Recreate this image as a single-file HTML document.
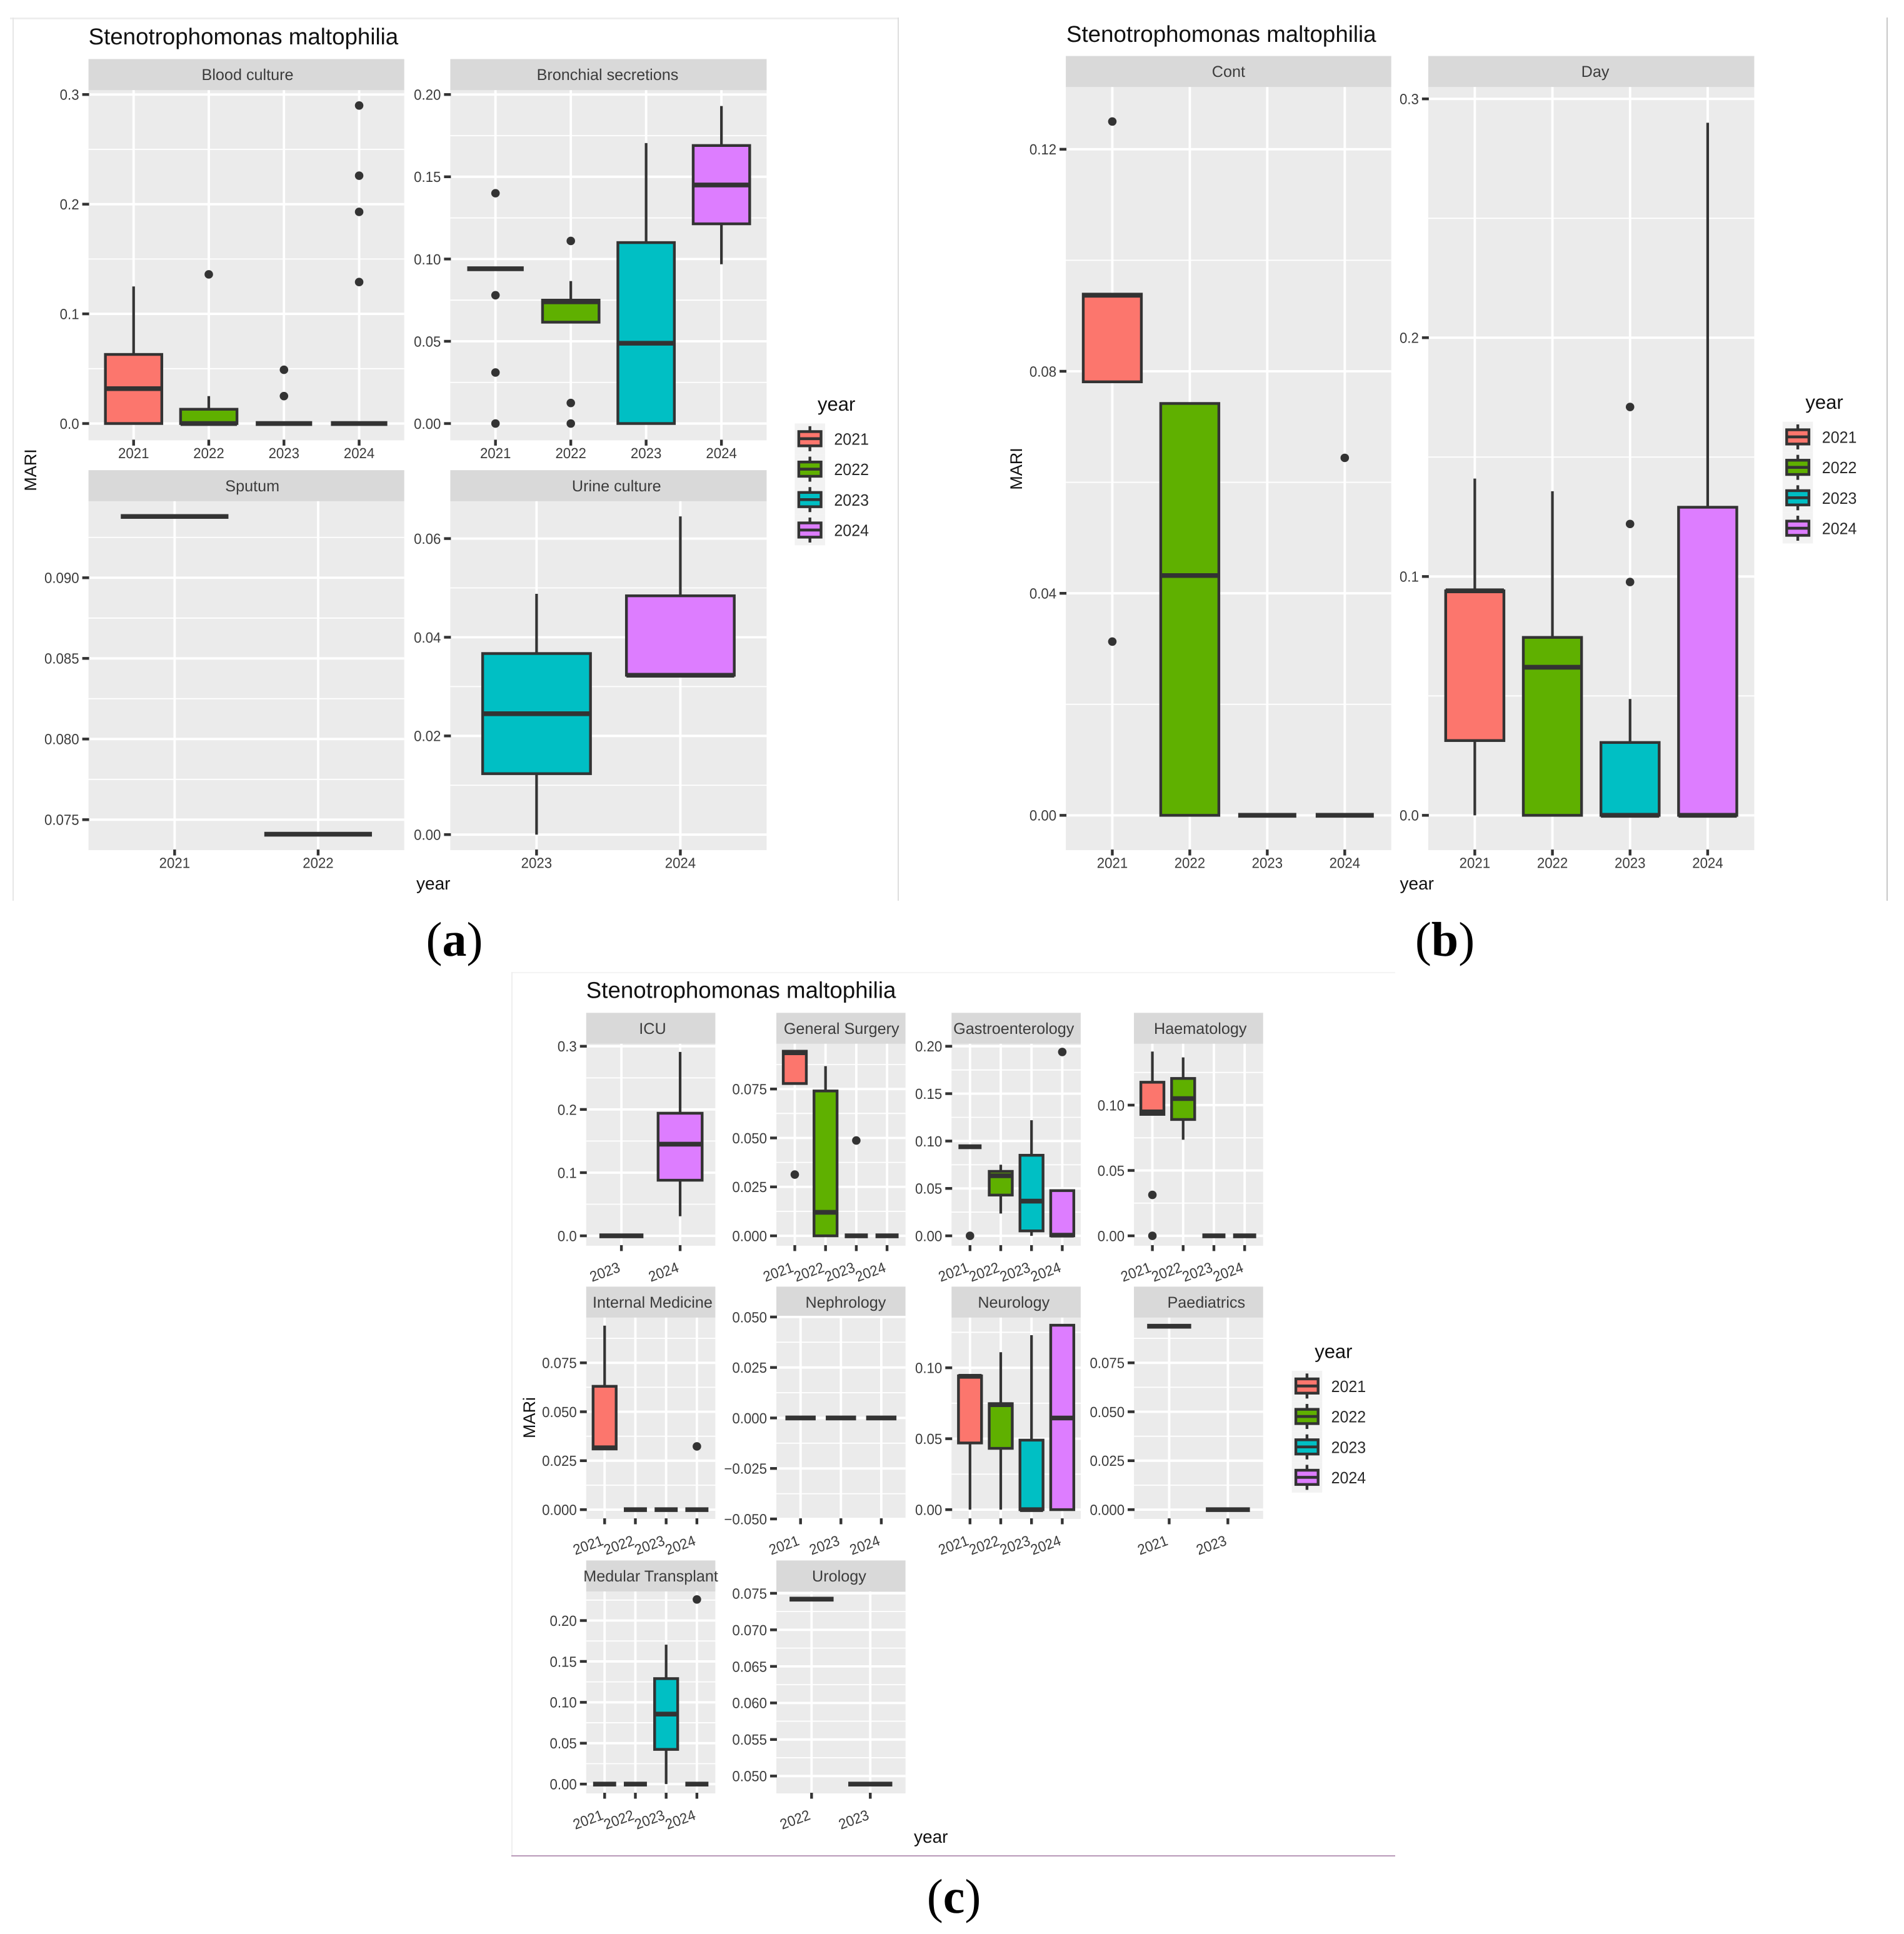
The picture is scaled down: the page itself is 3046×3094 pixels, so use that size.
<!DOCTYPE html>
<html lang="en">
<head>
<meta charset="utf-8">
<title>Stenotrophomonas maltophilia MARI boxplots</title>
<style>
html,body{margin:0;padding:0;background:#fff;}
svg{display:block;font-family:"Liberation Sans",Arial,sans-serif;text-rendering:geometricPrecision;}
</style>
</head>
<body>
<svg id="chart" xmlns="http://www.w3.org/2000/svg" width="3046" height="3094" viewBox="0 0 3046 3094">
  <rect x="0" y="0" width="3046" height="3094" fill="#ffffff"/>

  <rect x="16" y="28" width="1422" height="3" fill="#eeeeee"/>
  <rect x="20" y="28" width="2" height="1413" fill="#e6e6e6"/>
  <rect x="1436" y="28" width="2" height="1413" fill="#dedede"/>
  <rect x="3018" y="28" width="2" height="1413" fill="#c8c8c8"/>
  <rect x="818" y="1555" width="1414" height="2" fill="#f4f4f4"/>
  <rect x="818" y="1555" width="2" height="1414" fill="#eeeeee"/>
  <rect x="818" y="2968" width="1414" height="2" fill="#b899b8"/>

  <text x="141.6" y="71" font-size="36.7" fill="#111">Stenotrophomonas maltophilia</text>
  <text x="1706" y="67" font-size="36.7" fill="#111">Stenotrophomonas maltophilia</text>
  <text x="937.8" y="1596.5" font-size="36.7" fill="#111">Stenotrophomonas maltophilia</text>

  <text transform="translate(58 752) rotate(-90)" text-anchor="middle" font-size="27" fill="#111">MARI</text>
  <text transform="translate(1635 750) rotate(-90)" text-anchor="middle" font-size="27" fill="#111">MARI</text>
  <text transform="translate(856 2268) rotate(-90)" text-anchor="middle" font-size="27" fill="#111">MARi</text>

  <text x="666" y="1423" font-size="28" fill="#111">year</text>
  <text x="2239.5" y="1423" font-size="28" fill="#111">year</text>
  <text x="1462" y="2948" font-size="28" fill="#111">year</text>

  <text x="727" y="1529" text-anchor="middle" font-size="78" fill="#000" style="font-family:'Liberation Serif',serif">(<tspan font-weight="bold">a</tspan>)</text>
  <text x="2311.5" y="1529" text-anchor="middle" font-size="78" fill="#000" style="font-family:'Liberation Serif',serif">(<tspan font-weight="bold">b</tspan>)</text>
  <text x="1526" y="3060" text-anchor="middle" font-size="78" fill="#000" style="font-family:'Liberation Serif',serif">(<tspan font-weight="bold">c</tspan>)</text>

  <g id="plots"></g>
</svg>
<script>
// ---------- Data: each box row is [whisker low, Q1, median, Q3, whisker high] ----------
const legendYears = ['2021','2022','2023','2024'];

const bloodCultureYears = ['2021','2022','2023','2024'];
const bloodCultureTicks = [0,0.1,0.2,0.3];
const bloodCultureBoxes = [[0,0,0.0318,0.063,0.125],[0,0,0,0.013,0.025],[0,0,0,0,0],[0,0,0,0,0]];
const bloodCultureOutliers = [[],[0.136],[0.025,0.049],[0.129,0.193,0.226,0.29]];

const bronchialYears = ['2021','2022','2023','2024'];
const bronchialTicks = [0,0.05,0.10,0.15,0.20];
const bronchialBoxes = [[0.0941,0.0941,0.0941,0.0941,0.0941],[0.0616,0.0616,0.074,0.075,0.0866],[0,0,0.0488,0.11,0.1705],[0.0968,0.1214,0.145,0.169,0.193]];
const bronchialOutliers = [[0,0.031,0.078,0.14],[0,0.0125,0.111],[],[]];

const sputumYears = ['2021','2022'];
const sputumTicks = [0.075,0.080,0.085,0.090];
const sputumBoxes = [[0.0938,0.0938,0.0938,0.0938,0.0938],[0.0741,0.0741,0.0741,0.0741,0.0741]];
const sputumOutliers = [[],[]];

const urineYears = ['2023','2024'];
const urineTicks = [0,0.02,0.04,0.06];
const urineBoxes = [[0,0.01235,0.0245,0.0367,0.0488],[0.0323,0.0323,0.0323,0.0484,0.0645]];
const urineOutliers = [[],[]];

const contYears = ['2021','2022','2023','2024'];
const contTicks = [0,0.04,0.08,0.12];
const contBoxes = [[0.0781,0.0781,0.0937,0.0939,0.0939],[0,0,0.0432,0.0742,0.0742],[0,0,0,0,0],[0,0,0,0,0]];
const contOutliers = [[0.0313,0.125],[],[],[0.0644]];

const dayYears = ['2021','2022','2023','2024'];
const dayTicks = [0,0.1,0.2,0.3];
const dayBoxes = [[0,0.0313,0.094,0.094,0.141],[0,0,0.062,0.0745,0.1357],[0,0,0,0.0305,0.0487],[0,0,0,0.129,0.29]];
const dayOutliers = [[],[],[0.0977,0.122,0.171],[]];

const icuYears = ['2023','2024'];
const icuTicks = [0,0.1,0.2,0.3];
const icuBoxes = [[0,0,0,0,0],[0.031,0.088,0.145,0.194,0.291]];
const icuOutliers = [[],[]];

const surgeryYears = ['2021','2022','2023','2024'];
const surgeryTicks = [0,0.025,0.05,0.075];
const surgeryBoxes = [[0.0778,0.0778,0.0935,0.0943,0.0943],[0,0,0.012,0.074,0.0867],[0,0,0,0,0],[0,0,0,0,0]];
const surgeryOutliers = [[0.0313],[],[0.0487],[]];

const gastroYears = ['2021','2022','2023','2024'];
const gastroTicks = [0,0.05,0.10,0.15,0.20];
const gastroBoxes = [[0.094,0.094,0.094,0.094,0.094],[0.0235,0.043,0.0634,0.068,0.075],[0,0.0052,0.0366,0.085,0.122],[0,0,0.0007,0.0477,0.0477]];
const gastroOutliers = [[0],[],[],[0.194]];

const haemYears = ['2021','2022','2023','2024'];
const haemTicks = [0,0.05,0.10];
const haemBoxes = [[0.0929,0.0929,0.0948,0.1175,0.141],[0.0735,0.089,0.105,0.1204,0.1365],[0,0,0,0,0],[0,0,0,0,0]];
const haemOutliers = [[0,0.0313],[],[],[]];

const internalYears = ['2021','2022','2023','2024'];
const internalTicks = [0,0.025,0.05,0.075];
const internalBoxes = [[0.031,0.031,0.0316,0.063,0.094],[0,0,0,0,0],[0,0,0,0,0],[0,0,0,0,0]];
const internalOutliers = [[],[],[],[0.0323]];

const nephroYears = ['2021','2023','2024'];
const nephroTicks = [-0.05,-0.025,0,0.025,0.05];
const nephroBoxes = [[0,0,0,0,0],[0,0,0,0,0],[0,0,0,0,0]];
const nephroOutliers = [[],[],[]];

const neuroYears = ['2021','2022','2023','2024'];
const neuroTicks = [0,0.05,0.10];
const neuroBoxes = [[0,0.047,0.094,0.0943,0.0943],[0,0.0432,0.074,0.0747,0.111],[0,0,0,0.049,0.123],[0,0,0.0646,0.13,0.13]];
const neuroOutliers = [[],[],[],[]];

const paedYears = ['2021','2023'];
const paedTicks = [0,0.025,0.05,0.075];
const paedBoxes = [[0.0937,0.0937,0.0937,0.0937,0.0937],[0,0,0,0,0]];
const paedOutliers = [[],[]];

const medularYears = ['2021','2022','2023','2024'];
const medularTicks = [0,0.05,0.10,0.15,0.20];
const medularBoxes = [[0,0,0,0,0],[0,0,0,0,0],[0,0.0424,0.0856,0.129,0.1705],[0,0,0,0,0]];
const medularOutliers = [[],[],[],[0.2258]];

const urologyYears = ['2022','2023'];
const urologyTicks = [0.05,0.055,0.06,0.065,0.07,0.075];
const urologyBoxes = [[0.0742,0.0742,0.0742,0.0742,0.0742],[0.0489,0.0489,0.0489,0.0489,0.0489]];
const urologyOutliers = [[],[]];

// ---------- Drawing ----------
const SVG_NS = 'http://www.w3.org/2000/svg';
const fills = {'2021':'#FC766D','2022':'#5FB000','2023':'#00BFC4','2024':'#DD7DFF'};
const INK = '#333333';
const plotsRoot = document.getElementById('plots');

function mk(tag, attrs, parent){
  const e = document.createElementNS(SVG_NS, tag);
  for (const k in attrs) e.setAttribute(k, attrs[k]);
  parent.appendChild(e);
  return e;
}

// Scale factors mapping layout coordinates of each sub-figure to the page
const layoutA = {dx:0, dy:0, fx:1.0453, fy:1.0051};
const layoutB = {dx:1500, dy:0, fx:1.0142, fy:1.0051};
const layoutC = {dx:800, dy:1540, fx:1.0453, fy:1.009};

function drawPanel(p){
  const L = p.layout;
  const px = z => L.dx + z / L.fx;
  const py = z => L.dy + z / L.fy;
  const left = px(p.x0), right = px(p.x1);
  const stripTop = py(p.stripTop), top = py(p.stripBottom), bottom = py(p.bottom);
  const width = right - left;
  const slug = p.slug;

  const n = p.years.length;
  const step = width / (n - 1 + 1.2);
  const xScale = i => left + (i + 0.6) * step;
  const a0 = py(p.anchor[1]), a1 = py(p.anchor[3]);
  const yPerUnit = (a1 - a0) / (p.anchor[2] - p.anchor[0]);
  const yScale = v => a0 + (v - p.anchor[0]) * yPerUnit;

  const g = mk('g', {}, plotsRoot);
  
  

  const bg = mk('rect', {x:left, y:top, width:width, height:bottom - top, fill:'#EBEBEB'}, g);
  
  

  const strip = mk('rect', {x:left, y:stripTop, width:width, height:top - stripTop, fill:'#D9D9D9'}, g);
  
  

  const stripText = mk('text', {x:px(p.stripX), y:(stripTop + top) / 2 + 8.8, 'text-anchor':'middle', 'font-size':25.2, fill:'#3c3c3c'}, g);
  stripText.textContent = p.title;
  
  

  // minor horizontal gridlines
  const tickStep = p.ticks[1] - p.ticks[0];
  const lo = (bottom - a0) / yPerUnit + p.anchor[0];
  const hi = (top - a0) / yPerUnit + p.anchor[0];
  for (let k = -40; k < 40; k++){
    const v = p.ticks[0] + (k + 0.5) * tickStep;
    if (v < lo || v > hi) continue;
    const minor = mk('line', {x1:left, x2:right, y1:yScale(v), y2:yScale(v), stroke:'#fff', 'stroke-width':1.8}, g);
    
    
  }
  // major horizontal gridlines, ticks, labels
  p.ticks.forEach(v => {
    const y = yScale(v);
    const grid = mk('line', {x1:left, x2:right, y1:y, y2:y, stroke:'#fff', 'stroke-width':3.8}, g);
    
    

    const tick = mk('line', {x1:left - 10, x2:left + 1, y1:y, y2:y, stroke:INK, 'stroke-width':4.4}, g);
    
    

    const lab = mk('text', {transform:'translate(' + (left - 15) + ' ' + (y + 8.4) + ') scale(0.95 1)', 'text-anchor':'end', 'font-size':23.4, fill:'#3c3c3c'}, g);
    lab.textContent = v.toFixed(p.decimals).replace('-', '\u2212');
    
    
  });
  // vertical gridlines, ticks, labels
  p.years.forEach((yr, i) => {
    const x = xScale(i);
    const grid = mk('line', {x1:x, x2:x, y1:top, y2:bottom, stroke:'#fff', 'stroke-width':3.8}, g);
    
    

    const tick = mk('line', {x1:x, x2:x, y1:bottom - 1, y2:bottom + 8.5, stroke:INK, 'stroke-width':4.4}, g);
    
    

    const xform = p.rotate
      ? 'translate(' + (x - 0.5) + ' ' + (bottom + 41) + ') rotate(-20) scale(0.95 1)'
      : 'translate(' + x + ' ' + (bottom + 28.5) + ') scale(0.95 1)';
    const lab = mk('text', {transform:xform, 'text-anchor':p.rotate ? 'end' : 'middle', 'font-size':23.4, fill:'#3c3c3c'}, g);
    lab.textContent = yr;
    
    
  });
  // boxes
  p.boxes.forEach((b, i) => {
    const x = xScale(i), w = step * 0.75;
    const yr = p.years[i];
    const whiskLow = mk('line', {x1:x, x2:x, y1:yScale(b[0]), y2:yScale(b[1]), stroke:INK, 'stroke-width':4.2}, g);
    
    

    const whiskHigh = mk('line', {x1:x, x2:x, y1:yScale(b[3]), y2:yScale(b[4]), stroke:INK, 'stroke-width':4.2}, g);
    
    

    const box = mk('rect', {x:x - w / 2, y:yScale(b[3]), width:w, height:Math.max(0, yScale(b[1]) - yScale(b[3])), fill:fills[yr], stroke:INK, 'stroke-width':4.4}, g);
    
    

    const med = mk('line', {x1:x - w / 2, x2:x + w / 2, y1:yScale(b[2]), y2:yScale(b[2]), stroke:INK, 'stroke-width':7.6}, g);
    
    

    p.outliers[i].forEach(v => {
      const dot = mk('circle', {cx:x, cy:yScale(v), r:6.8, fill:INK}, g);
      
      
    });
  });
}

function drawLegend(name, bx, by){
  const g = mk('g', {}, plotsRoot);
  
  

  const title = mk('text', {x:bx + 36.6, y:by - 20.5, 'font-size':31, fill:'#111'}, g);
  title.textContent = 'year';
  
  

  const keyH = 48.7, keyW = 48.6;
  legendYears.forEach((yr, i) => {
    const top = by + i * keyH, cx = bx + keyW / 2, cy = top + keyH / 2;
    const bg = mk('rect', {x:bx, y:top, width:keyW, height:keyH, fill:'#F2F2F2'}, g);
    
    

    const wh = mk('line', {x1:cx, x2:cx, y1:cy - 20, y2:cy + 20, stroke:INK, 'stroke-width':4.4}, g);
    
    

    const box = mk('rect', {x:cx - 17.8, y:cy - 11.4, width:35.6, height:22.8, fill:fills[yr], stroke:INK, 'stroke-width':4.4}, g);
    
    

    const med = mk('line', {x1:cx - 17.8, x2:cx + 17.8, y1:cy, y2:cy, stroke:INK, 'stroke-width':4.6}, g);
    
    

    const lab = mk('text', {transform:'translate(' + (bx + 63) + ' ' + (cy + 9.5) + ') scale(0.95 1)', 'font-size':26.3, fill:'#2a2a2a'}, g);
    lab.textContent = yr;
    
    
  });
}

// Panel (a)
drawPanel({layout:layoutA, slug:'blood-culture', title:'Blood culture', stripX:414, x0:148, x1:676, stripTop:95, stripBottom:145, bottom:708, anchor:[0,681,0.3,152], ticks:bloodCultureTicks, decimals:1, years:bloodCultureYears, boxes:bloodCultureBoxes, outliers:bloodCultureOutliers});
drawPanel({layout:layoutA, slug:'bronchial-secretions', title:'Bronchial secretions', stripX:1016, x0:753, x1:1282, stripTop:95, stripBottom:145, bottom:708, anchor:[0,681,0.2,152], ticks:bronchialTicks, decimals:2, years:bronchialYears, boxes:bronchialBoxes, outliers:bronchialOutliers});
drawPanel({layout:layoutA, slug:'sputum', title:'Sputum', stripX:422, x0:148, x1:676, stripTop:756, stripBottom:806, bottom:1367, anchor:[0.075,1318,0.09,929], ticks:sputumTicks, decimals:3, years:sputumYears, boxes:sputumBoxes, outliers:sputumOutliers});
drawPanel({layout:layoutA, slug:'urine-culture', title:'Urine culture', stripX:1031, x0:753, x1:1282, stripTop:756, stripBottom:806, bottom:1367, anchor:[0,1342,0.06,866], ticks:urineTicks, decimals:2, years:urineYears, boxes:urineBoxes, outliers:urineOutliers});
drawLegend('legend-a', 1271.4, 677.5);

// Panel (b)
drawPanel({layout:layoutB, slug:'cont', title:'Cont', stripX:472, x0:208, x1:736, stripTop:90, stripBottom:140, bottom:1367, anchor:[0,1311,0.12,240], ticks:contTicks, decimals:2, years:contYears, boxes:contBoxes, outliers:contOutliers});
drawPanel({layout:layoutB, slug:'day', title:'Day', stripX:1067, x0:796, x1:1325, stripTop:90, stripBottom:140, bottom:1367, anchor:[0,1311,0.3,159], ticks:dayTicks, decimals:1, years:dayYears, boxes:dayBoxes, outliers:dayOutliers});
drawLegend('legend-b', 2851.8, 674.6);

// Panel (c)
drawPanel({layout:layoutC, rotate:true, slug:'icu', title:'ICU', stripX:255, x0:144, x1:360, stripTop:81, stripBottom:131, bottom:457, anchor:[0,441,0.3,135], ticks:icuTicks, decimals:1, years:icuYears, boxes:icuBoxes, outliers:icuOutliers});
drawPanel({layout:layoutC, rotate:true, slug:'general-surgery', title:'General Surgery', stripX:571, x0:462, x1:678, stripTop:81, stripBottom:131, bottom:457, anchor:[0,441,0.075,204], ticks:surgeryTicks, decimals:3, years:surgeryYears, boxes:surgeryBoxes, outliers:surgeryOutliers});
drawPanel({layout:layoutC, rotate:true, slug:'gastroenterology', title:'Gastroenterology', stripX:859, x0:755, x1:971, stripTop:81, stripBottom:131, bottom:457, anchor:[0,441,0.2,135], ticks:gastroTicks, decimals:2, years:gastroYears, boxes:gastroBoxes, outliers:gastroOutliers});
drawPanel({layout:layoutC, rotate:true, slug:'haematology', title:'Haematology', stripX:1171, x0:1060, x1:1276, stripTop:81, stripBottom:131, bottom:457, anchor:[0,441,0.1,230], ticks:haemTicks, decimals:2, years:haemYears, boxes:haemBoxes, outliers:haemOutliers});
drawPanel({layout:layoutC, rotate:true, slug:'internal-medicine', title:'Internal Medicine', stripX:255, x0:144, x1:360, stripTop:523, stripBottom:573, bottom:898, anchor:[0,883,0.075,646], ticks:internalTicks, decimals:3, years:internalYears, boxes:internalBoxes, outliers:internalOutliers});
drawPanel({layout:layoutC, rotate:true, slug:'nephrology', title:'Nephrology', stripX:578, x0:462, x1:678, stripTop:523, stripBottom:573, bottom:898, anchor:[0,735,0.05,572], ticks:nephroTicks, decimals:3, years:nephroYears, boxes:nephroBoxes, outliers:nephroOutliers});
drawPanel({layout:layoutC, rotate:true, slug:'neurology', title:'Neurology', stripX:859, x0:755, x1:971, stripTop:523, stripBottom:573, bottom:898, anchor:[0,883,0.1,654], ticks:neuroTicks, decimals:2, years:neuroYears, boxes:neuroBoxes, outliers:neuroOutliers});
drawPanel({layout:layoutC, rotate:true, slug:'paediatrics', title:'Paediatrics', stripX:1181, x0:1060, x1:1276, stripTop:523, stripBottom:573, bottom:898, anchor:[0,883,0.075,646], ticks:paedTicks, decimals:3, years:paedYears, boxes:paedBoxes, outliers:paedOutliers});
drawPanel({layout:layoutC, rotate:true, slug:'medular-transplant', title:'Medular Transplant', stripX:252, x0:144, x1:360, stripTop:965, stripBottom:1015, bottom:1341, anchor:[0,1326,0.2,1062], ticks:medularTicks, decimals:2, years:medularYears, boxes:medularBoxes, outliers:medularOutliers});
drawPanel({layout:layoutC, rotate:true, slug:'urology', title:'Urology', stripX:567, x0:462, x1:678, stripTop:965, stripBottom:1015, bottom:1341, anchor:[0.05,1313,0.075,1018], ticks:urologyTicks, decimals:3, years:urologyYears, boxes:urologyBoxes, outliers:urologyOutliers});
drawLegend('legend-c', 2066.6, 2193);
</script>
</body>
</html>
